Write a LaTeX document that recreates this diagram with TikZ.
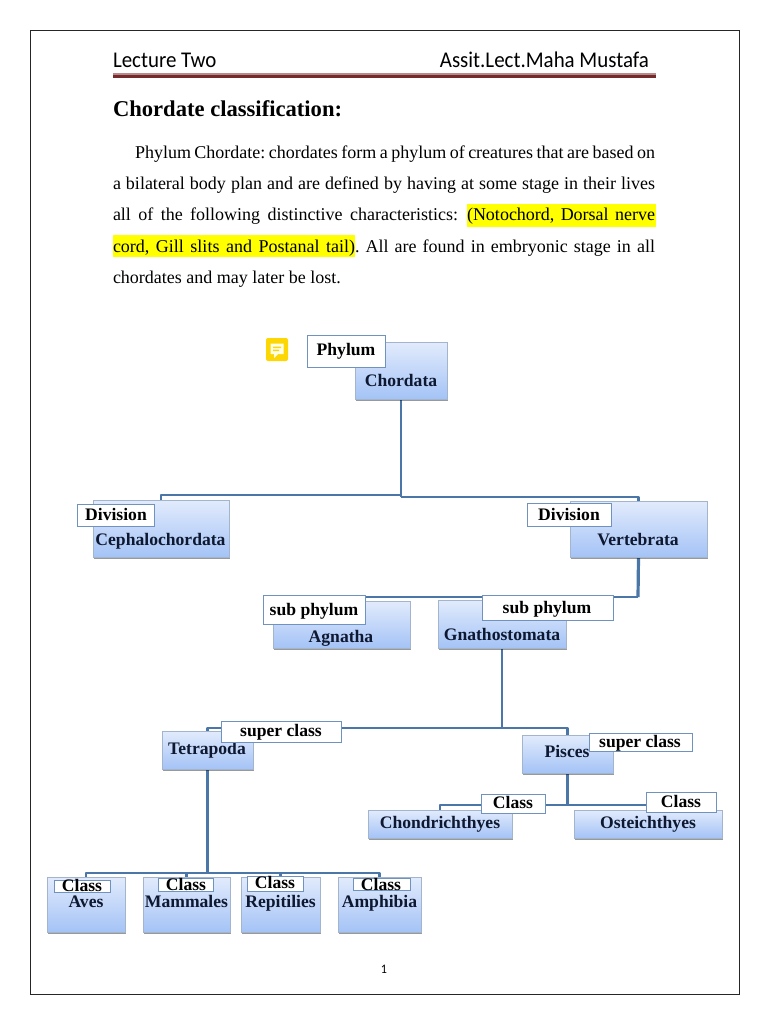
\documentclass[tikz,border=0pt]{standalone}
\usepackage{fontspec}
\setmainfont{Liberation Serif}
\newfontfamily\calibrifont[FakeStretch=0.93]{Carlito}
\usetikzlibrary{shadows,backgrounds}
\definecolor{linkblue}{HTML}{4A76A8}
\definecolor{boxedge}{HTML}{A3B5CC}
\definecolor{boxtop}{HTML}{E2EBFC}
\definecolor{boxbot}{HTML}{A4C3F6}
\definecolor{tagedge}{HTML}{7092BE}
\definecolor{boxink}{HTML}{0E1830}
\definecolor{hl}{HTML}{FFFF00}
\definecolor{ruledark}{HTML}{752A2C}
\definecolor{rulelight}{HTML}{B98A8B}
\tikzset{
  x=1pt,y=-1pt,
  plain/.style={anchor=base west,inner sep=0pt,outer sep=0pt},
  bodytext/.style={plain,font=\frenchspacing\fontsize{18}{20}\selectfont},
  headtext/.style={inner sep=0pt,outer sep=0pt,font=\calibrifont\fontsize{22.5}{25}\selectfont},
  taxon/.style={rectangle,inner sep=0pt,outer sep=0pt,draw=boxedge,line width=.9pt,
    top color=boxtop,bottom color=boxbot,
    drop shadow={shadow xshift=.8pt,shadow yshift=-2.2pt,opacity=.4,fill=black}},
  taxontext/.style={anchor=base,inner sep=0pt,text=boxink,font=\bfseries\fontsize{17.6}{20}\selectfont},
  tagbox/.style={rectangle,inner sep=0pt,outer sep=0pt,draw=tagedge,line width=.9pt,fill=white},
  tagtext/.style={anchor=base,inner sep=0pt,text=black,font=\bfseries\fontsize{17.6}{20}\selectfont},
  link/.style={draw=linkblue,line width=2.7pt,line join=round},
  thinlink/.style={draw=linkblue,line width=2.3pt,line join=round},
}
% name, x1,y1,x2,y2, text x, baseline y, text
\newcommand\taxon[8]{%
  \node[taxon,minimum width={(#4-#2)*1pt},minimum height={(#5-#3)*1pt}] (#1) at ({(#2+#4)/2},{(#3+#5)/2}) {};
  \node[taxontext] (#1-t) at (#6,#7) {#8};}
\newcommand\taglabel[8]{%
  \node[tagbox,minimum width={(#4-#2)*1pt},minimum height={(#5-#3)*1pt}] (#1) at ({(#2+#4)/2},{(#3+#5)/2}) {};
  \node[tagtext] (#1-t) at (#6,#7) {#8};}
\newcommand\spreadline[5]{% name, x1, x2, baseline, text
  \node[bodytext] (#1) at (#2,#4) {\makebox[{\dimexpr #3pt-#2pt\relax}][s]{#5}};}
\begin{document}
\begin{tikzpicture}
\useasboundingbox (0,0) rectangle (768,1024);
\node[rectangle,draw=black!85,line width=1pt,inner sep=0pt,minimum width=709pt,minimum height=963pt] (frame) at (384.5,512.5) {};

% header
\node[headtext,anchor=base west] (lect) at (113,67.5) {Lecture Two};
\node[headtext,anchor=base east] (auth) at (649,67.5) {Assit.Lect.Maha Mustafa};
\fill[rulelight] (113,72.6) rectangle (656,75.4);
\fill[ruledark] (113,75.4) rectangle (656,78);

% title and body
\node[plain,font=\bfseries\fontsize{22.6}{26}\selectfont] (title) at (113,117) {Chordate classification:};
\fill[hl] (467,204.5) rectangle (656,227);
\fill[hl] (113,234.5) rectangle (355,257);
\spreadline{l1}{135}{655}{159}{Phylum Chordate: chordates form a phylum of creatures that are based on}
\spreadline{l2}{113}{655}{190}{a bilateral body plan and are defined by having at some stage in their lives}
\spreadline{l3a}{113}{458}{221}{all of the following distinctive characteristics:}
\spreadline{l3b}{467}{655}{221}{(Notochord, Dorsal nerve}
\spreadline{l4a}{113}{355}{252}{cord, Gill slits and Postanal tail)}
\spreadline{l4b}{355}{655}{252}{. All are found in embryonic stage in all}
\node[bodytext] (l5) at (113,283) {chordates and may later be lost.};

% comment icon
\node[rectangle,rounded corners=2pt,fill=yellow!75!orange,minimum width=22pt,minimum height=23pt,inner sep=0pt] (icon) at (277,349.5) {};
\fill[white!90!yellow] (270.5,343.5) rectangle (283.5,354) (274,354) -- (278,354) -- (274,358) -- cycle;
\fill[yellow!75!orange] (273,346.5) rectangle (281,348) (273,349.5) rectangle (279,351);

% taxa
\taxon{chordata}{355}{342}{447}{399}{401}{386}{Chordata}
\taglabel{phylum}{307}{335}{385}{367}{346}{355}{Phylum}
\taxon{ceph}{93}{500}{229}{557}{160.5}{545}{Cephalochordata}
\taglabel{divl}{77}{504}{154}{526}{116}{520}{Division}
\taxon{vert}{570}{501}{707}{557}{638}{545}{Vertebrata}
\taglabel{divr}{527}{503}{611}{526}{569}{520}{Division}
\taxon{agn}{273}{601}{410}{648}{341}{642}{Agnatha}
\taglabel{subl}{263}{595}{365}{624}{314}{615}{sub phylum}
\taxon{gna}{438}{600}{566}{648}{502}{640}{Gnathostomata}
\taglabel{subr}{482}{595}{613}{620}{547}{613}{sub phylum}
\taxon{tet}{162}{731}{253}{769}{207}{754}{Tetrapoda}
\taglabel{supl}{221}{721}{341}{742}{281}{736}{super class}
\taxon{pis}{522}{735}{613}{773}{567}{757}{Pisces}
\taglabel{supr}{589}{733}{692}{751}{640}{747}{super class}
\taxon{cho}{368}{810}{512}{838}{440}{828}{Chondrichthyes}
\taglabel{cll}{481}{794}{545}{813}{513}{808}{Class}
\taxon{ost}{574}{810}{722}{838}{648}{828}{Osteichthyes}
\taglabel{clr}{646}{792}{716}{812}{681}{807}{Class}
\taxon{ave}{47}{877}{125}{932}{86}{907}{Aves}
\taglabel{cla}{54}{880}{110}{892}{82}{891}{Class}
\taxon{mam}{143}{877}{230}{932}{186.5}{907}{Mammales}
\taglabel{clm}{158}{878}{213}{891}{186}{890}{Class}
\taxon{rep}{241}{877}{320}{932}{280.5}{907}{Repitilies}
\taglabel{clp}{247}{876}{303}{891}{275}{888}{Class}
\taxon{amp}{338}{877}{421}{932}{379.5}{907}{Amphibia}
\taglabel{clh}{353}{878}{410}{890}{381}{890}{Class}

% page number
\node[inner sep=0pt,font=\calibrifont\fontsize{13}{15}\selectfont] (pg) at (384,969.5) {1};

% connectors
\coordinate (j1) at (401,495);
\coordinate (j1b) at (401,497);
\coordinate (j2) at (638,597);
\coordinate (j3) at (502,728);
\coordinate (j4) at (207.5,873);
\coordinate (j5) at (567.5,805);
\begin{scope}[on background layer]
\draw[link] (chordata.south) -- (j1b);
\draw[thinlink] (j1) -| (ceph.north);
\draw[thinlink] (j1b) -| (vert.north);
\draw[link,line width=3.2pt] (vert.south) -- (j2);
\draw[thinlink] (j2) -| (agn.north);
\draw[thinlink] (j2) -| (gna.north);
\draw[link] (gna.south) -- (j3);
\draw[thinlink] (j3) -| (tet.north);
\draw[link] (j3) -| (pis.north);
\draw[link] (tet.south) -- (j4);
\draw[thinlink] (j4) -| (ave.north);
\draw[thinlink] (j4) -| (mam.north);
\draw[thinlink] (j4) -| (rep.north);
\draw[thinlink] (j4) -| (amp.north);
\draw[link] (pis.south) -- (j5);
\draw[thinlink] (j5) -| (cho.north);
\draw[thinlink] (j5) -| (ost.north);
\end{scope}
\end{tikzpicture}
\end{document}
